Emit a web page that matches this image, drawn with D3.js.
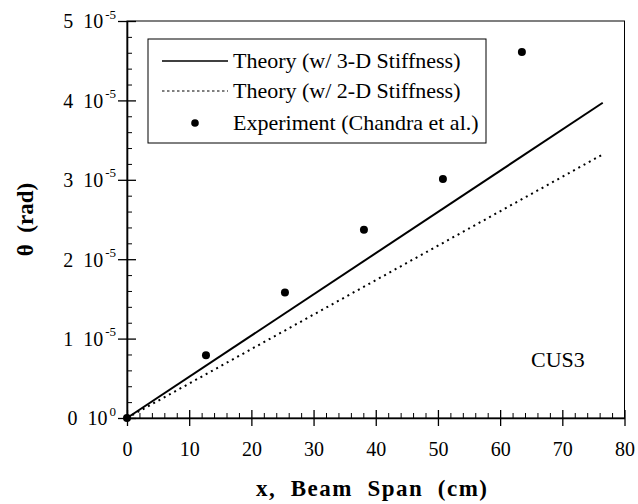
<!DOCTYPE html>
<html>
<head>
<meta charset="utf-8">
<script src="https://cdn.jsdelivr.net/npm/d3@7"></script>
</head>
<body style="margin:0">
<script>
// x positions of the measurements (cm)
var spanX = [0, 12.7, 25.4, 38.1, 50.8, 63.5];
// measured twist angle (rad)
var experimentTheta = [0, 0.79e-5, 1.58e-5, 2.37e-5, 3.01e-5, 4.61e-5];
// theory lines, start and end points
var theoryX = [0, 76.5];
var theory3D = [0, 3.97e-5];
var theory2D = [0, 3.32e-5];
// ticks
var xTicks = [0, 10, 20, 30, 40, 50, 60, 70, 80];
var yTicks = [0, 1e-5, 2e-5, 3e-5, 4e-5, 5e-5];
var yTickLabels = [["0", "0"], ["1", "-5"], ["2", "-5"], ["3", "-5"], ["4", "-5"], ["5", "-5"]];
var legendLabels = ["Theory (w/ 3-D Stiffness)", "Theory (w/ 2-D Stiffness)", "Experiment (Chandra et al.)"];

var FONT = "'Liberation Serif'";

var W = 638, H = 504;
var margin = { top: 21, right: 13.5, bottom: 86, left: 127 },
    width = W - margin.left - margin.right,
    height = H - margin.top - margin.bottom;

var svg = d3.select("body").append("svg")
    .attr("width", W)
    .attr("height", H);

var g = svg.append("g")
    .attr("transform", "translate(" + margin.left + "," + margin.top + ")");

var xScale = d3.scaleLinear().domain([0, 80]).range([0, width]);
var yScale = d3.scaleLinear().domain([0, 5e-5]).range([height, 0]);

// frame (top and right plain)
g.append("rect")
    .attr("width", width).attr("height", height)
    .attr("fill", "none").attr("stroke", "#000").attr("stroke-width", 1);

// minor ticks
var xMinor = d3.range(0, 80.001, 2).filter(function(d) { return d % 10 !== 0; });
var yMinor = d3.range(0, 5e-5 + 1e-12, 0.2e-5).filter(function(d) { return Math.abs(d / 1e-5 - Math.round(d / 1e-5)) > 1e-6; });

var gX = g.append("g")
    .attr("transform", "translate(0," + height + ")")
    .call(d3.axisBottom(xScale).tickValues(xTicks).tickSize(8).tickSizeOuter(0).tickPadding(16));
gX.select(".domain").attr("stroke-width", 1.6);
gX.selectAll(".tick line").attr("y1", -8).attr("stroke-width", 1.3);
gX.selectAll(".tick text").attr("font-size", 20).style("font-family", FONT);

g.append("g")
    .attr("transform", "translate(0," + height + ")")
    .call(d3.axisBottom(xScale).tickValues(xMinor).tickSize(-5).tickSizeOuter(0).tickFormat(""))
    .call(function(a) { a.select(".domain").remove(); });

var gY = g.append("g")
    .call(d3.axisLeft(yScale).tickValues(yTicks).tickSize(9).tickSizeOuter(0).tickPadding(2));
gY.select(".domain").attr("stroke-width", 1.6);
gY.selectAll(".tick line").attr("x1", 9).attr("stroke-width", 1.3);
gY.selectAll(".tick text").each(function(d, i) {
    var t = d3.select(this).text(null).attr("font-size", 20).style("font-family", FONT)
        .style("white-space", "pre")
        .attr("dy", "0.34em");
    t.append("tspan").text(yTickLabels[i][0] + "  10");
    t.append("tspan").attr("font-size", 13).attr("dx", 2).attr("dy", "-0.75em").text(yTickLabels[i][1]);
});

g.append("g")
    .call(d3.axisLeft(yScale).tickValues(yMinor).tickSize(-5).tickSizeOuter(0).tickFormat(""))
    .call(function(a) { a.select(".domain").remove(); });

// theory lines
var line = d3.line()
    .x(function(d) { return xScale(d[0]); })
    .y(function(d) { return yScale(d[1]); });

g.append("path")
    .datum(d3.zip(theoryX, theory3D))
    .attr("d", line)
    .attr("fill", "none").attr("stroke", "#000").attr("stroke-width", 2);

g.append("path")
    .datum(d3.zip(theoryX, theory2D))
    .attr("d", line)
    .attr("fill", "none").attr("stroke", "#000").attr("stroke-width", 2)
    .attr("stroke-dasharray", "2,4");

// experiment points
g.selectAll(".pt")
    .data(d3.zip(spanX, experimentTheta))
    .enter().append("circle")
    .attr("class", "pt")
    .attr("cx", function(d) { return xScale(d[0]); })
    .attr("cy", function(d) { return yScale(d[1]); })
    .attr("r", 4)
    .attr("fill", "#000");

// legend
var legend = svg.append("g").attr("transform", "translate(148,39)");
legend.append("rect")
    .attr("width", 338).attr("height", 104)
    .attr("fill", "#fff").attr("stroke", "#000").attr("stroke-width", 1);

var rowY = [22, 52, 84];
legendLabels.forEach(function(lbl, i) {
    if (i < 2) {
        legend.append("line")
            .attr("x1", 14).attr("x2", 80)
            .attr("y1", rowY[i]).attr("y2", rowY[i])
            .attr("stroke", "#000").attr("stroke-width", i === 0 ? 1.6 : 1.2)
            .attr("stroke-dasharray", i === 0 ? null : "2.5,2.5");
    } else {
        legend.append("circle")
            .attr("cx", 47).attr("cy", rowY[i]).attr("r", 3.8).attr("fill", "#000");
    }
    legend.append("text")
        .attr("x", 85).attr("y", rowY[i]).attr("dy", "0.32em")
        .attr("font-size", 22)
        .style("font-family", FONT)
        .text(lbl);
});

// annotation
g.append("text")
    .attr("x", 404).attr("y", 346)
    .attr("font-size", 22)
    .style("font-family", FONT)
    .text("CUS3");

// axis titles
svg.append("text")
    .attr("x", 256).attr("y", 496)
    .attr("font-size", 23).attr("font-weight", "bold")
    .attr("textLength", 231).attr("lengthAdjust", "spacing")
    .style("font-family", FONT).style("white-space", "pre")
    .text("x,  Beam  Span  (cm)");

svg.append("text")
    .attr("transform", "translate(33," + (margin.top + height / 2) + ") rotate(-90)")
    .attr("text-anchor", "middle")
    .attr("font-size", 23).attr("font-weight", "bold")
    .style("font-family", FONT).style("white-space", "pre")
    .text("\u03b8  (rad)");
</script>
</body>
</html>
